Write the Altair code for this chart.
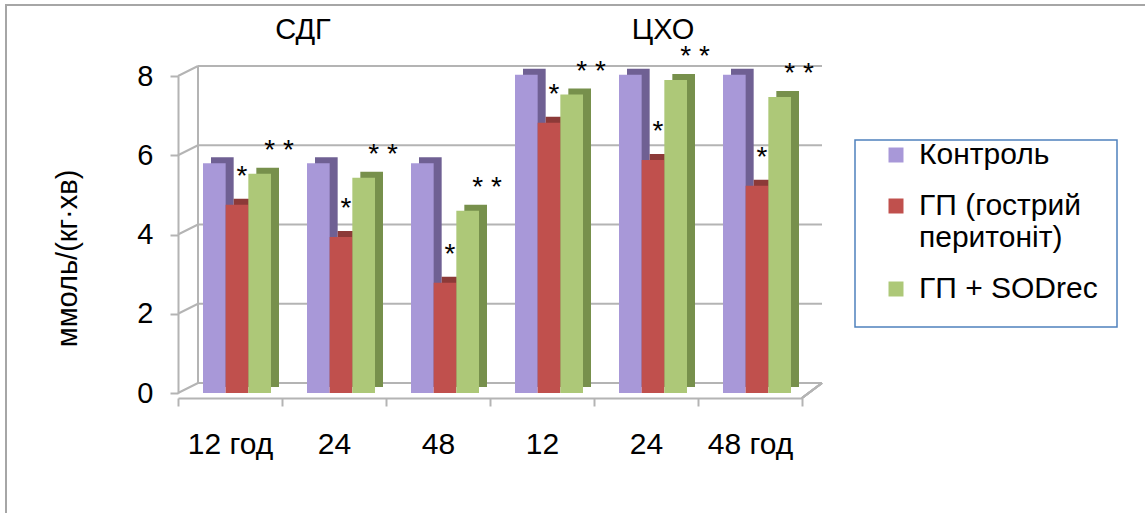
import altair as alt
import pandas as pd

# ---- data ----
groups = ["СДГ", "СДГ", "СДГ", "ЦХО", "ЦХО", "ЦХО"]
hours = ["12 год", "24", "48", "12", "24", "48 год"]
series = ["Контроль", "ГП (гострий перитоніт)", "ГП + SODrec"]
control = [5.8, 5.8, 5.8, 8.03, 8.03, 8.03]
peritonitis = [4.75, 3.94, 2.78, 6.82, 5.88, 5.23]
sodrec = [5.53, 5.43, 4.60, 7.53, 7.90, 7.47]
notes = ["", "*", "* *"]
y_ticks = [0, 2, 4, 6, 8]
panel_titles = ["СДГ", "ЦХО"]

front_colors = ["#a898d8", "#c0504d", "#adc878"]
side_colors = ["#6f6093", "#8c3a38", "#77904c"]

keys = [f"{g}|{h}" for g, h in zip(groups, hours)]
rows = []
for k, c, p, s in zip(keys, control, peritonitis, sodrec):
    for name, v, n in zip(series, [c, p, s], notes):
        rows.append({"key": k, "series": name, "value": v, "note": n})
df = pd.DataFrame(rows)
ticks_df = pd.DataFrame({"tick": y_ticks})
titles_df = pd.DataFrame({"title": panel_titles, "key": [keys[1], keys[4]]})

W, H = 624, 317
FONT = "Liberation Sans"
GRID = "#b4b4b4"
FRONT_RANGE = [25, 93]   # bar cluster inside each category band
SIDE_RANGE = [33, 101]   # same cluster pushed back for the 3-D side/top faces

x_axis = alt.Axis(labelExpr="split(datum.value, '|')[1]", labelAngle=0,
                  labelFontSize=30, labelColor="black", tickBand="extent",
                  tickSize=8, tickColor=GRID, tickWidth=2, domainColor=GRID,
                  domainWidth=2, offset=5, labelPadding=23, grid=False, zindex=1)
x_enc = alt.X("key:N", sort=keys, title=None,
              scale=alt.Scale(domain=keys, paddingInner=0, paddingOuter=0),
              axis=x_axis)
y_enc = alt.Y("value:Q", scale=alt.Scale(domain=[0, 8], nice=False),
              axis=alt.Axis(values=y_ticks, tickSize=8, tickColor=GRID, tickWidth=2,
                            domainColor=GRID, domainWidth=2, labelFontSize=29,
                            labelColor="black", labelPadding=17, grid=False, zindex=1,
                            title="ммоль/(кг·хв)", titleFontSize=29,
                            titleFontWeight="normal", titleColor="black",
                            titleAngle=270, titleBaseline="bottom", titleAlign="center",
                            titleX=-96, titleY=182))


def xo(rng):
    return alt.XOffset("series:N", sort=series,
                       scale=alt.Scale(domain=series, range=rng,
                                       paddingOuter=0, paddingInner=0))


# outer frame
frame = alt.Chart(ticks_df).mark_rect(fill="transparent", stroke="#a6a6a6",
                                      strokeWidth=2).encode(
    x=alt.value(-172), x2=alt.value(1100), y=alt.value(-71), y2=alt.value(600))

# back wall gridlines and perspective edges
grid = alt.Chart(ticks_df).mark_rule(color=GRID, strokeWidth=2, xOffset=20, x2Offset=20,
                                     yOffset=-10, y2Offset=-10).encode(
    y=alt.Y("tick:Q"), x=alt.value(0), x2=alt.value(W))
diag = alt.Chart(ticks_df).mark_rule(color=GRID, strokeWidth=2, y2Offset=-10).encode(
    y=alt.Y("tick:Q"), y2=alt.Y2("tick:Q"), x=alt.value(0), x2=alt.value(20))
wall = alt.Chart(ticks_df).mark_rule(color=GRID, strokeWidth=2, yOffset=-10, y2Offset=-10).encode(
    x=alt.value(20), y=alt.datum(0), y2=alt.datum(8))
floor_edge = alt.Chart(ticks_df).mark_rule(color=GRID, strokeWidth=2, yOffset=5, y2Offset=-10).encode(
    x=alt.value(W), x2=alt.value(W + 20), y=alt.datum(0), y2=alt.datum(0))

side = alt.Chart(df).mark_bar(yOffset=-6, y2Offset=-6).encode(
    x=x_enc, xOffset=xo(SIDE_RANGE), y=y_enc,
    color=alt.Color("series:N", sort=series,
                    scale=alt.Scale(domain=series, range=side_colors), legend=None))

front = alt.Chart(df).mark_bar().encode(
    x=x_enc, xOffset=xo(FRONT_RANGE), y=y_enc,
    color=alt.Color("series:N", sort=series,
                    scale=alt.Scale(domain=series, range=front_colors),
                    legend=alt.Legend(title=None, orient="none", legendX=703, legendY=64,
                                      symbolType="square", symbolSize=225,
                                      symbolStrokeWidth=0, labelFontSize=30,
                                      labelFont=FONT, labelColor="black",
                                      labelExpr="datum.label == 'ГП (гострий перитоніт)' ? ['ГП (гострий', 'перитоніт)'] : datum.label",
                                      labelLimit=400, labelOffset=8, rowPadding=21,
                                      padding=0)))

star1 = alt.Chart(df).mark_text(dx=5, dy=-20, fontSize=28, baseline="alphabetic",
                                align="center", color="black").encode(
    x=x_enc, xOffset=xo(FRONT_RANGE), y=y_enc,
    text="note:N").transform_filter(alt.datum.series == series[1])
star2 = alt.Chart(df).mark_text(dx=8, dy=-15, fontSize=28, baseline="alphabetic",
                                align="center", color="black").encode(
    x=x_enc, xOffset=xo(FRONT_RANGE), y=y_enc,
    text="note:N").transform_filter(alt.datum.series == series[2])

t1 = alt.Chart(titles_df.iloc[[0]]).mark_text(fontSize=29, dx=-31, baseline="middle",
                                                  color="black").encode(
    x=alt.X("key:N", sort=keys), y=alt.value(-46), text="title:N")
t2 = alt.Chart(titles_df.iloc[[1]]).mark_text(fontSize=29, dx=17, baseline="middle",
                                                  color="black").encode(
    x=alt.X("key:N", sort=keys), y=alt.value(-46), text="title:N")

legend_box = alt.Chart(ticks_df.iloc[[0]]).mark_rect(fill="transparent", stroke="#4f81bd",
                                                   strokeWidth=1.5).encode(
    x=alt.value(677), x2=alt.value(939), y=alt.value(64), y2=alt.value(251))

chart = alt.layer(frame, grid, diag, wall, floor_edge, side, front, star1, star2, t1, t2,
                  legend_box).resolve_scale(color="independent",
                                            xOffset="independent").properties(
    width=W, height=H,
    autosize=alt.AutoSizeParams(type="none"),
    padding={"left": 178, "top": 76, "right": 1145 - 178 - W, "bottom": 513 - 76 - H},
    background="white",
).configure(font=FONT).configure_view(strokeWidth=0)

chart.save("out.html", embed_options={"renderer": "svg", "actions": False})
